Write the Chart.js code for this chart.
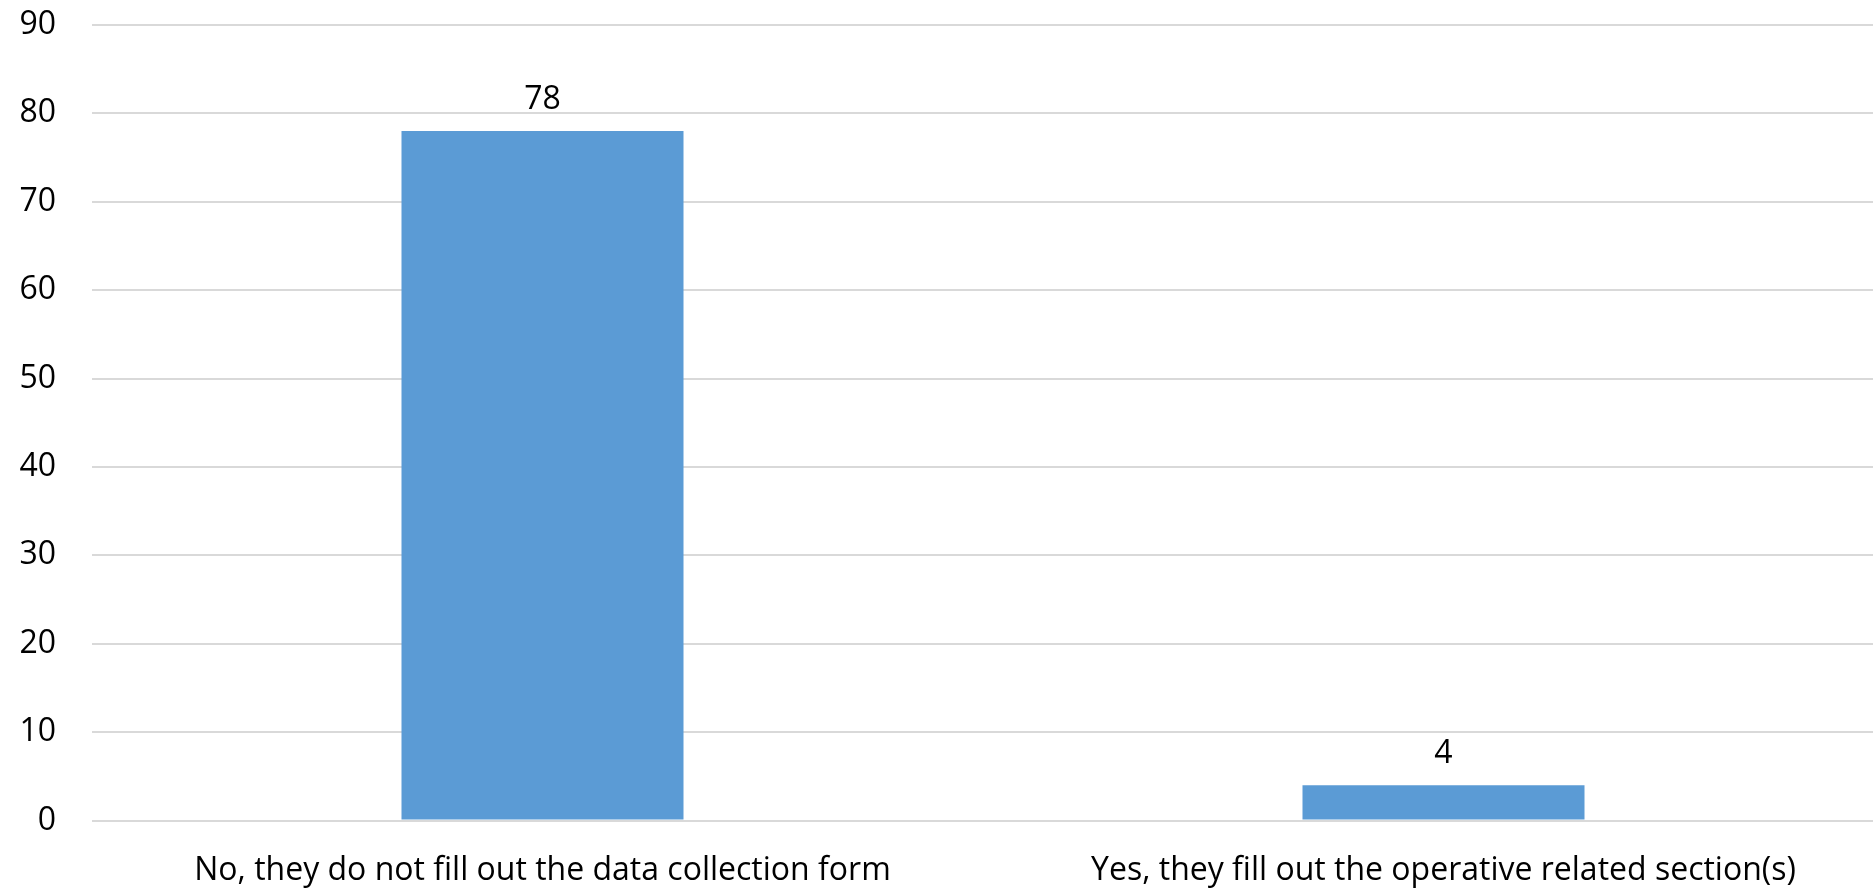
<!DOCTYPE html>
<html>
<head>
<meta charset="utf-8">
<script src="https://cdn.jsdelivr.net/npm/chart.js@4/dist/chart.umd.min.js"></script>
<style>
  html, body { margin: 0; padding: 0; background: #fff; overflow: hidden; }
  #wrap { position: absolute; left: 0; top: 0; width: 1894px; height: 890px; }
</style>
</head>
<body>
<div id="wrap"><canvas id="c"></canvas></div>
<script>
const categories = [
  "No, they do not fill out the data collection form",
  "Yes, they fill out the operative related section(s)"
];
const values = [78, 4];
const yTicks = [0, 10, 20, 30, 40, 50, 60, 70, 80, 90];

const FONT = "'Open Sans', 'Noto Sans', sans-serif";

const valueLabels = {
  id: 'valueLabels',
  afterDatasetsDraw(chart) {
    const ctx = chart.ctx;
    const meta = chart.getDatasetMeta(0);
    ctx.save();
    ctx.fillStyle = '#000';
    ctx.font = '32px ' + FONT;
    ctx.textAlign = 'center';
    ctx.textBaseline = 'alphabetic';
    meta.data.forEach((bar, i) => {
      ctx.fillText(String(values[i]), bar.x, bar.y - 22);
    });
    ctx.restore();
  }
};

new Chart(document.getElementById('c'), {
  type: 'bar',
  data: {
    labels: categories,
    datasets: [{
      data: values,
      backgroundColor: '#5b9bd5',
      borderWidth: 0,
      categoryPercentage: 1,
      barPercentage: 0.313
    }]
  },
  options: {
    responsive: true,
    maintainAspectRatio: false,
    animation: false,
    layout: { padding: { top: 25, left: 0, right: 0, bottom: 0 } },
    plugins: { legend: { display: false }, tooltip: { enabled: false } },
    scales: {
      x: {
        grid: { display: false, drawTicks: false },
        border: { display: false },
        ticks: { color: '#000', font: { size: 32, family: FONT }, padding: 31, maxRotation: 0, autoSkip: false },
        afterFit(s) { s.height = 69.5; s.paddingLeft = 0; s.paddingRight = 0; }
      },
      y: {
        min: 0, max: 90,
        afterBuildTicks(s) { s.ticks = yTicks.map(v => ({ value: v })); },
        grid: { color: '#d9d9d9', lineWidth: 2, drawTicks: false, tickLength: 0 },
        border: { display: false },
        ticks: { color: '#000', font: { size: 32, family: FONT }, padding: 36 },
        afterFit(s) { s.width = 92; s.paddingTop = 0; s.paddingBottom = 0; }
      }
    }
  },
  plugins: [valueLabels]
});
</script>
</body>
</html>
